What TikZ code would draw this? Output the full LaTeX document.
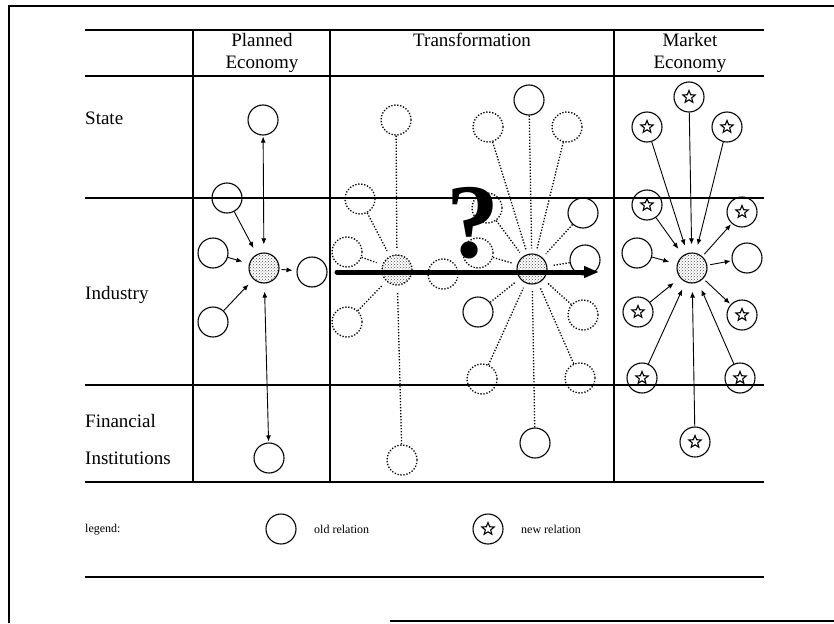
\documentclass[tikz,border=0pt]{standalone}
\usepackage{fontspec}
\setmainfont{Liberation Serif}
\usetikzlibrary{arrows.meta,patterns,shapes.geometric}
\begin{document}
\begin{tikzpicture}[x=1pt,y=-1pt,
  rel/.style={circle, draw, line width=1.1pt, minimum size=30pt, inner sep=0pt},
  dotrel/.style={rel, dash pattern=on 1.3pt off 1.7pt, line width=1.3pt},
  newrel/.style={rel, path picture={\node[star, star points=5, star point ratio=2.3, draw, solid, line width=1.1pt, minimum size=13pt, inner sep=0pt] at (path picture bounding box.center) {};}},
  hub/.style={rel, pattern=crosshatch dots, pattern color=black!70},
  dothub/.style={hub, dash pattern=on 1.3pt off 1.7pt, line width=1.3pt},
  arr/.style={-{Latex[length=6pt,width=5pt]}, line width=0.9pt},
  darr/.style={{Latex[length=6pt,width=5pt]}-{Latex[length=6pt,width=5pt]}, line width=0.9pt},
  dline/.style={dash pattern=on 1.3pt off 1.7pt, line width=1.3pt},
  rulel/.style={line width=1.4pt},
  lab/.style={font=\fontsize{19}{22}\selectfont, anchor=west, inner sep=0pt},
  head/.style={font=\fontsize{19}{22}\selectfont, inner sep=0pt},
  leg/.style={font=\fontsize{12}{14}\selectfont, anchor=west, inner sep=0pt}]
\useasboundingbox (0,0) rectangle (834,623);
% frame
\coordinate (f1) at (9,623); \coordinate (f2) at (9,6); \coordinate (f3) at (834,6);
\coordinate (f4) at (390,621); \coordinate (f5) at (834,621);
\draw[line width=1.2pt] (f1) -- (f2) -- (f3);
\draw[line width=1.2pt] (f4) -- (f5);
% table rules
\foreach \yy/\nm in {30/r1,76/r2,198/r3,385/r4,482/r5,577/r6}{
  \coordinate (\nm a) at (85,\yy); \coordinate (\nm b) at (764,\yy);
  \draw[rulel] (\nm a) -- (\nm b);
}
\foreach \xx/\nm in {193/v1,330/v2,614/v3}{
  \coordinate (\nm a) at (\xx,30); \coordinate (\nm b) at (\xx,482);
  \draw[rulel] (\nm a) -- (\nm b);
}
% headers
\node[head] (hP1) at (262,40) {Planned};
\node[head] (hP2) at (262,64) {Economy};
\node[head] (hT) at (472,40) {Transformation};
\node[head] (hM1) at (690,40) {Market};
\node[head] (hM2) at (690,64) {Economy};
% row labels
\node[lab] (lS) at (85,118) {State};
\node[lab] (lI) at (85,295) {Industry};
\node[lab] (lF1) at (85,421) {Financial};
\node[lab] (lF2) at (85,458) {Institutions};
% planned economy
\node[rel] (pT) at (263,120) {};
\node[rel] (pUL) at (227,198) {};
\node[rel] (pL) at (213,253) {};
\node[hub] (pH) at (264,268) {};
\node[rel] (pR) at (312,272) {};
\node[rel] (pLL) at (213,322) {};
\node[rel] (pB) at (269,458) {};
\draw[darr, shorten <=1pt, shorten >=8pt] (pT) -- (pH);
\draw[darr, shorten <=8pt, shorten >=1pt] (pH) -- (pB);
\draw[arr, shorten >=7pt] (pUL) -- (pH);
\draw[arr, shorten >=7pt] (pL) -- (pH);
\draw[arr, shorten >=7pt] (pLL) -- (pH);
\draw[arr, shorten <=2pt, shorten >=4pt] (pH) -- (pR);
% transformation, left cluster
\node[dotrel] (tlT) at (396,120) {};
\node[dotrel] (tlUL) at (360,199) {};
\node[dotrel] (tlL) at (347,252) {};
\node[dothub] (tlH) at (397,270) {};
\node[dotrel] (tlBL) at (347,322) {};
\node[dotrel] (tlM) at (443,274) {};
\node[dotrel] (tlB) at (402,460) {};
\foreach \s in {tlT,tlUL,tlL,tlBL,tlB}{
  \draw[dline, shorten >=6pt] (\s) -- (tlH);
}
% transformation, right cluster
\node[hub] (trH) at (532,269) {};
\node[rel] (trT) at (529,100) {};
\node[dotrel] (trUL) at (488,127) {};
\node[dotrel] (trUR) at (567,127) {};
\node[dotrel] (trQ) at (487,208) {};
\node[rel] (trRU) at (583,213) {};
\node[dotrel] (trML) at (478,253) {};
\node[rel] (trMR) at (585,260) {};
\node[rel] (trLL) at (478,312) {};
\node[dotrel] (trLR) at (583,315) {};
\node[dotrel] (trBL) at (482,379) {};
\node[dotrel] (trBR) at (580,378) {};
\node[rel] (trB) at (535,443) {};
\foreach \s in {trT,trUL,trUR,trQ,trRU,trML,trMR,trLL,trLR,trBL,trBR,trB}{
  \draw[dline, shorten >=5pt] (\s) -- (trH);
}
% market economy
\node[hub] (mH) at (692,268) {};
\node[newrel] (mT) at (689,97) {};
\node[newrel] (mUL) at (647,127) {};
\node[newrel] (mUR) at (727,127) {};
\node[newrel] (mL1) at (647,205) {};
\node[newrel] (mR1) at (742,212) {};
\node[rel] (mL2) at (637,253) {};
\node[rel] (mR2) at (747,258) {};
\node[newrel] (mL3) at (638,312) {};
\node[newrel] (mR3) at (742,315) {};
\node[newrel] (mL4) at (642,378) {};
\node[newrel] (mR4) at (740,378) {};
\node[newrel] (mB) at (695,442) {};
\foreach \s in {mT,mUL,mUR,mL1,mL2,mL3,mL4,mR4,mB}{
  \draw[arr, shorten >=8pt] (\s) -- (mH);
}
\foreach \t in {mR1,mR2,mR3}{
  \draw[arr, shorten <=3pt, shorten >=1pt] (mH) -- (\t);
}
% question mark and big arrow
\node[font=\fontsize{106}{106}\selectfont\bfseries, anchor=base, inner sep=0pt] (qm) at (473,257) {?};
\coordinate (aS) at (337,272);
\coordinate (aE) at (599,272);
\draw[line width=5pt, line cap=round, -{Triangle[length=15pt,width=11pt]}] (aS) -- (aE);
% legend
\node[leg] (lg) at (85,530) {legend:};
\node[rel] (lgO) at (281,529) {};
\node[leg] (lgOt) at (314,529) {old relation};
\node[newrel] (lgN) at (488,529) {};
\node[leg] (lgNt) at (521,529) {new relation};
\end{tikzpicture}
\end{document}
